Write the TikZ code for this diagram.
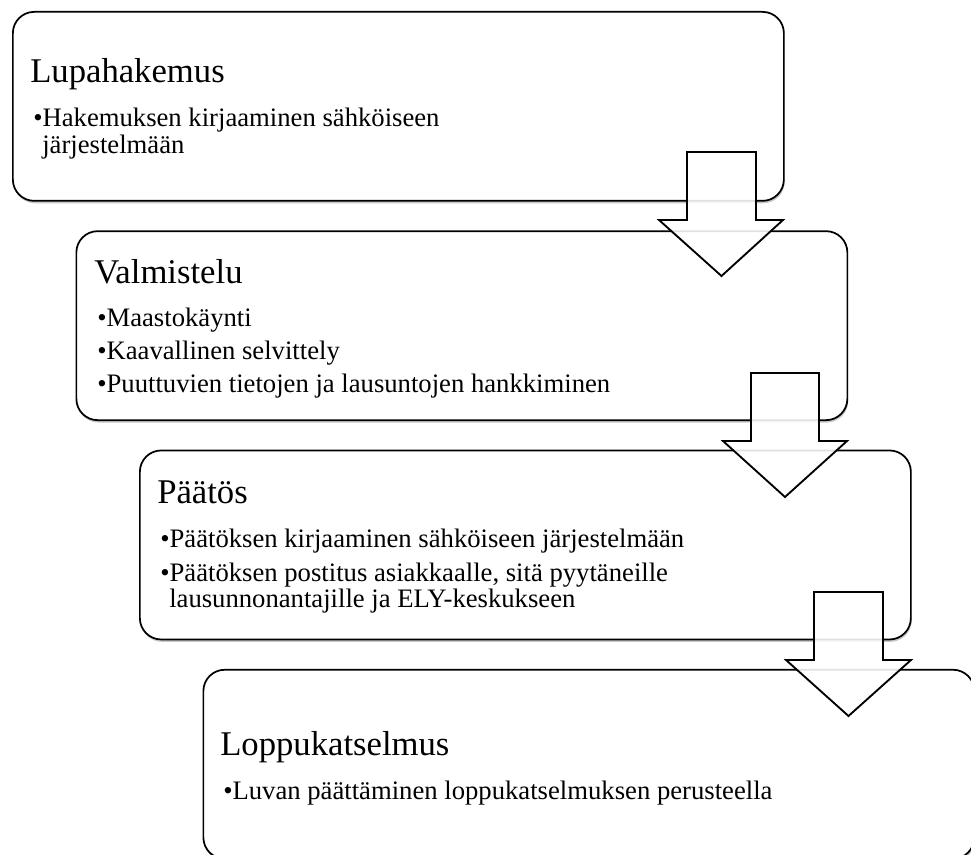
\documentclass[tikz,border=0pt]{standalone}
\usepackage{fontspec}
\setmainfont{Liberation Serif}
\usetikzlibrary{shadows}
\begin{document}
\begin{tikzpicture}[x=0.75pt,y=-0.75pt,
  stagebox/.style={draw=black, line width=1.3pt, fill=white, rounded corners=16pt,
    minimum width=578.25pt, minimum height=141.75pt, anchor=north west, inner sep=0pt,
    drop shadow={shadow xshift=0.6pt, shadow yshift=-1.8pt, opacity=0.22, fill=black}},
  ttl/.style={anchor=base west, inner sep=0pt, font=\fontsize{26}{28}\selectfont},
  itm/.style={anchor=base west, inner sep=0pt, font=\fontsize{20}{21}\selectfont},
  flowarrow/.style={draw=black, line width=1.4pt, fill=white, fill opacity=0.88, line join=miter}
]
\useasboundingbox (0,0) rectangle (971,855);

% boxes
\node[stagebox] (b1) at (12,11) {};
\node[stagebox] (b2) at (75.5,230.3) {};
\node[stagebox] (b3) at (139,449.6) {};
\node[stagebox] (b4) at (202.5,668.9) {};

% box 1
\node[ttl] (t1) at (30,83) {Lupahakemus};
\node[itm] (i11) at (33,127) {•Hakemuksen kirjaaminen sähköiseen};
\node[itm] (i12) at (42,154) {järjestelmään};

% box 2
\node[ttl] (t2) at (94,284) {Valmistelu};
\node[itm] (i21) at (97,327) {•Maastokäynti};
\node[itm] (i22) at (97,360) {•Kaavallinen selvittely};
\node[itm] (i23) at (97,393) {•Puuttuvien tietojen ja lausuntojen hankkiminen};

% box 3
\node[ttl] (t3) at (157,503) {Päätös};
\node[itm] (i31) at (160,547) {•Päätöksen kirjaaminen sähköiseen järjestelmään};
\node[itm] (i32) at (160,581) {•Päätöksen postitus asiakkaalle, sitä pyytäneille};
\node[itm] (i33) at (169,607) {lausunnonantajille ja ELY-keskukseen};

% box 4
\node[ttl] (t4) at (220,755) {Loppukatselmus};
\node[itm] (i41) at (223,799) {•Luvan päättäminen loppukatselmuksen perusteella};

% arrows
\draw[flowarrow] (687,152) -- (756,152) -- (756,220) -- (783,220) -- (721.5,276)
  -- (659,220) -- (687,220) -- cycle;
\draw[flowarrow] (751,373) -- (819,373) -- (819,441) -- (847,441) -- (785,497)
  -- (723,441) -- (751,441) -- cycle;
\draw[flowarrow] (814,592) -- (883,592) -- (883,660) -- (911,660) -- (848.5,716)
  -- (786,660) -- (814,660) -- cycle;
\end{tikzpicture}
\end{document}
